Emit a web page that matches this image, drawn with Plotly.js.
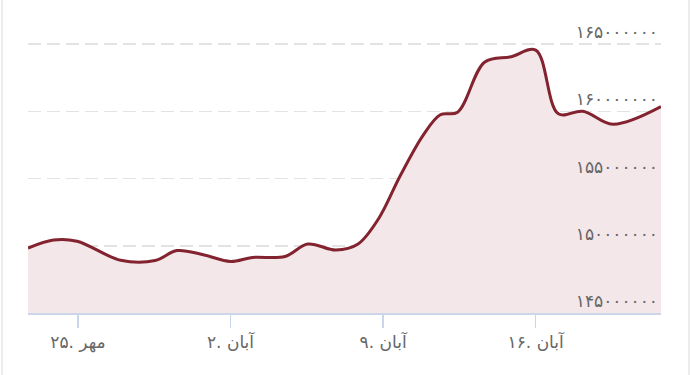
<!DOCTYPE html>
<html>
<head>
<meta charset="utf-8">
<script src="https://cdn.plot.ly/plotly-3.0.1.min.js"></script>
<style>
  html, body { margin: 0; padding: 0; background: #ffffff; }
  #chart { width: 690px; height: 375px; }
</style>
</head>
<body>
<div id="chart"></div>
<script>
// Price readings (times of each reading)
var times = [
  '2025-10-14 17:00', '2025-10-15 21:00', '2025-10-16 23:00', '2025-10-18 23:00',
  '2025-10-20 13:00', '2025-10-21 13:00', '2025-10-22 18:00', '2025-10-24 00:00',
  '2025-10-25 00:00', '2025-10-26 12:00', '2025-10-27 13:00', '2025-10-28 20:00',
  '2025-10-29 20:00', '2025-10-30 19:00', '2025-10-31 19:00', '2025-11-01 20:00',
  '2025-11-02 15:00', '2025-11-03 10:00', '2025-11-04 16:00', '2025-11-05 21:00',
  '2025-11-07 00:00', '2025-11-08 01:00', '2025-11-09 04:00', '2025-11-10 13:00',
  '2025-11-12 18:00'
];
var prices = [
  149830000, 150430000, 150340000, 148920000,
  148900000, 149640000, 149330000, 148830000,
  149130000, 149200000, 150130000, 149680000,
  150110000, 152010000, 155220000, 158210000,
  159740000, 159930000, 163660000, 164050000,
  164550000, 159810000, 160000000, 159030000,
  160340000
];
// X axis ticks (Solar Hijri dates)
var xTickVals = ['2025-10-17', '2025-10-24', '2025-10-31', '2025-11-07'];
var xTickText = ['۲۵. مهر', '۲. آبان', '۹. آبان', '۱۶. آبان'];
// Y axis ticks
var yTickVals = [145000000, 150000000, 155000000, 160000000, 165000000];
var yTickText = ['۱۴۵۰۰۰۰۰۰', '۱۵۰۰۰۰۰۰۰', '۱۵۵۰۰۰۰۰۰', '۱۶۰۰۰۰۰۰۰', '۱۶۵۰۰۰۰۰۰'];
var yRange = [145000000, 167230000];

var trace = {
  x: times,
  y: prices,
  type: 'scatter',
  mode: 'lines',
  line: { color: '#82232f', width: 3, shape: 'spline', smoothing: 1 },
  fill: 'tozeroy',
  fillcolor: 'rgba(243,231,233,1)',
  hoverinfo: 'skip'
};

var layout = {
  width: 690,
  height: 375,
  margin: { l: 28, r: 29, t: 14, b: 62 },
  paper_bgcolor: '#ffffff',
  plot_bgcolor: '#ffffff',
  showlegend: false,
  font: { family: 'DejaVu Sans, sans-serif', color: '#666666' },
  xaxis: {
    type: 'date',
    range: [times[0], times[times.length - 1]],
    tickvals: xTickVals,
    ticktext: xTickText,
    showgrid: false,
    zeroline: false,
    showline: true,
    linecolor: '#ccd6eb',
    linewidth: 1.5,
    ticks: 'outside',
    ticklen: 13,
    tickwidth: 1.5,
    tickcolor: '#ccd6eb',
    tickfont: { family: 'DejaVu Sans, sans-serif', size: 17, color: '#666666' },
    fixedrange: true
  },
  yaxis: {
    side: 'right',
    range: yRange,
    tickvals: yTickVals,
    ticktext: yTickText,
    ticklabelposition: 'inside top',
    ticks: '',
    showgrid: true,
    gridcolor: '#e3e3e3',
    gridwidth: 1.5,
    griddash: '13px,6px',
    zeroline: false,
    showline: false,
    tickfont: { family: 'DejaVu Sans, sans-serif', size: 17, color: '#666666' },
    fixedrange: true
  },
  shapes: [
    { type: 'line', xref: 'paper', yref: 'paper', x0: -0.041, x1: -0.041, y0: -0.21, y1: 1.05,
      line: { color: '#ececec', width: 2 } },
    { type: 'line', xref: 'paper', yref: 'paper', x0: 1.0442, x1: 1.0442, y0: -0.21, y1: 1.05,
      line: { color: '#ececec', width: 2 } }
  ]
};

Plotly.newPlot('chart', [trace], layout, { displayModeBar: false, staticPlot: true });
</script>
</body>
</html>
